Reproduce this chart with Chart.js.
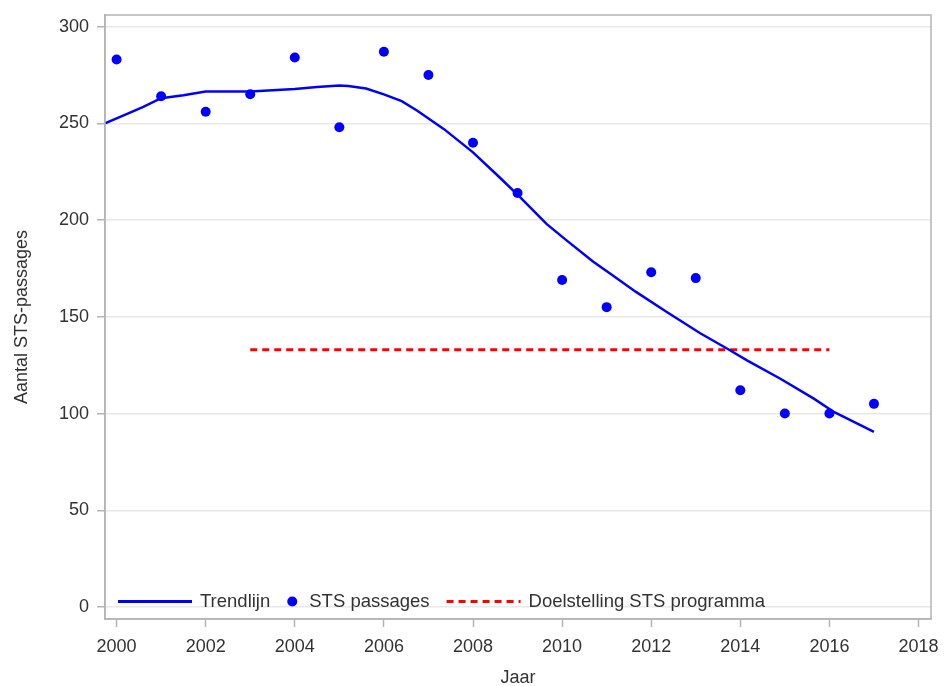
<!DOCTYPE html>
<html>
<head>
<meta charset="utf-8">
<script src="https://cdn.jsdelivr.net/npm/chart.js@4.4.1/dist/chart.umd.min.js"></script>
<style>
  html, body { margin: 0; padding: 0; background: #fff; }
</style>
</head>
<body>
<canvas id="chartSts" width="949" height="686"></canvas>
<script>
// Jaarlijkse STS-passages (punten)
const jaren = [2000, 2001, 2002, 2003, 2004, 2005, 2006, 2007, 2008, 2009, 2010, 2011, 2012, 2013, 2014, 2015, 2016, 2017];
const passages = [283, 264, 256, 265, 284, 248, 287, 275, 240, 214, 169, 155, 173, 170, 112, 100, 100, 105];

const trendJaren = [1999.74, 2000.25, 2000.6, 2001, 2001.5, 2002, 2003, 2004, 2004.5, 2005, 2005.2, 2005.6, 2006, 2006.4, 2006.75, 2007.35, 2008, 2008.6, 2009.05, 2009.65, 2010.1, 2010.7, 2011.1, 2011.65, 2012.35, 2013.1, 2013.7, 2014.15, 2014.9, 2015.65, 2016.1, 2017];
const trendWaarden = [250, 255, 258.5, 263, 264.5, 266.5, 266.5, 267.8, 268.8, 269.5, 269.3, 268, 265, 261.5, 256.5, 247, 235, 222, 212, 198, 189.5, 178.5, 172, 163, 152.5, 141.5, 133.6, 127.5, 118, 107.7, 100.8, 90.5];

// Doelstelling STS programma
const doelJaren = [2003, 2016];
const doelWaarden = [133, 133];

const xTicks = [2000, 2002, 2004, 2006, 2008, 2010, 2012, 2014, 2016, 2018];
const yTicks = [0, 50, 100, 150, 200, 250, 300];

const FONT = '"Liberation Sans", Arial, sans-serif';
const TEKST = '#333333';
const KADER = '#b4b4b4';

const kaderPlugin = {
    id: 'kader',
    afterDatasetsDraw(chart) {
        const { ctx, chartArea: a } = chart;
        ctx.save();
        ctx.strokeStyle = KADER;
        ctx.lineWidth = 1.5;
        ctx.strokeRect(a.left, a.top, a.right - a.left, a.bottom - a.top);
        ctx.restore();
    }
};

// legenda binnen het plotvlak, onderaan
const legendaPlugin = {
    id: 'legenda',
    afterDraw(chart) {
        const ctx = chart.ctx;
        const y = chart.chartArea.bottom - 17.5;
        let x = chart.chartArea.left + 13;
        ctx.save();
        ctx.font = '18.5px ' + FONT;
        ctx.textBaseline = 'middle';
        chart.data.datasets.forEach(ds => {
            if (ds.showLine === false) {
                ctx.fillStyle = ds.backgroundColor;
                ctx.beginPath();
                ctx.arc(x + 5, y, ds.pointRadius, 0, Math.PI * 2);
                ctx.fill();
                x += 22;
            } else {
                ctx.strokeStyle = ds.borderColor;
                ctx.lineWidth = 3;
                ctx.setLineDash(ds.borderDash || []);
                ctx.beginPath();
                ctx.moveTo(x, y);
                ctx.lineTo(x + 74, y);
                ctx.stroke();
                ctx.setLineDash([]);
                x += 82;
            }
            ctx.fillStyle = TEKST;
            ctx.fillText(ds.label, x, y);
            x += ctx.measureText(ds.label).width + 17;
        });
        ctx.restore();
    }
};

const ctx = document.getElementById('chartSts');

new Chart(ctx, {
    type: 'scatter',
    data: {
        datasets: [{
            label: 'Trendlijn',
            data: trendJaren.map((j, i) => ({ x: j, y: trendWaarden[i] })),
            showLine: true,
            borderColor: '#0000ff',
            backgroundColor: '#0000ff',
            borderWidth: 2.5,
            pointRadius: 0,
            tension: 0,
            order: 1
        }, {
            label: 'STS passages',
            data: jaren.map((j, i) => ({ x: j, y: passages[i] })),
            showLine: false,
            backgroundColor: '#0000ff',
            borderColor: '#0000ff',
            borderWidth: 0,
            pointRadius: 5,
            order: 0
        }, {
            label: 'Doelstelling STS programma',
            data: doelJaren.map((j, i) => ({ x: j, y: doelWaarden[i] })),
            showLine: true,
            borderColor: '#ff0000',
            backgroundColor: '#ff0000',
            borderWidth: 3,
            borderDash: [7, 5],
            pointRadius: 0,
            order: 2
        }]
    },
    options: {
        responsive: false,
        animation: false,
        layout: { padding: { top: 15, right: 18, left: 0, bottom: 0 } },
        scales: {
            x: {
                type: 'linear',
                min: 1999.74,
                max: 2018.28,
                afterBuildTicks: s => { s.ticks = xTicks.map(v => ({ value: v })); },
                afterFit: s => { s.height = 67; s.paddingLeft = 0; s.paddingRight = 0; },
                ticks: {
                    color: TEKST,
                    font: { family: FONT, size: 18 },
                    padding: 9,
                    autoSkip: false,
                    maxRotation: 0,
                    callback: v => String(v)
                },
                grid: { drawOnChartArea: false, color: KADER, tickLength: 8, tickWidth: 1.5 },
                border: { color: KADER, width: 1.5 },
                title: {
                    display: true,
                    text: 'Jaar',
                    color: TEKST,
                    font: { family: FONT, size: 18, lineHeight: 1 },
                    padding: { top: 0, bottom: -1 }
                }
            },
            y: {
                min: -6.2,
                max: 306,
                afterBuildTicks: s => { s.ticks = yTicks.map(v => ({ value: v })); },
                afterFit: s => { s.width = 105; s.paddingTop = 0; s.paddingBottom = 0; },
                ticks: {
                    color: TEKST,
                    font: { family: FONT, size: 18 },
                    padding: 8,
                    callback: v => String(v)
                },
                grid: { color: '#e8e8e8', lineWidth: 1.5, tickColor: KADER, tickLength: 8 },
                border: { color: KADER, width: 1.5 },
                title: {
                    display: true,
                    text: 'Aantal STS-passages',
                    color: TEKST,
                    font: { family: FONT, size: 18, lineHeight: 1.2 },
                    padding: { top: 11, bottom: 0 }
                }
            }
        },
        plugins: {
            legend: { display: false },
            tooltip: { enabled: false }
        }
    },
    plugins: [kaderPlugin, legendaPlugin]
});
</script>
</body>
</html>
